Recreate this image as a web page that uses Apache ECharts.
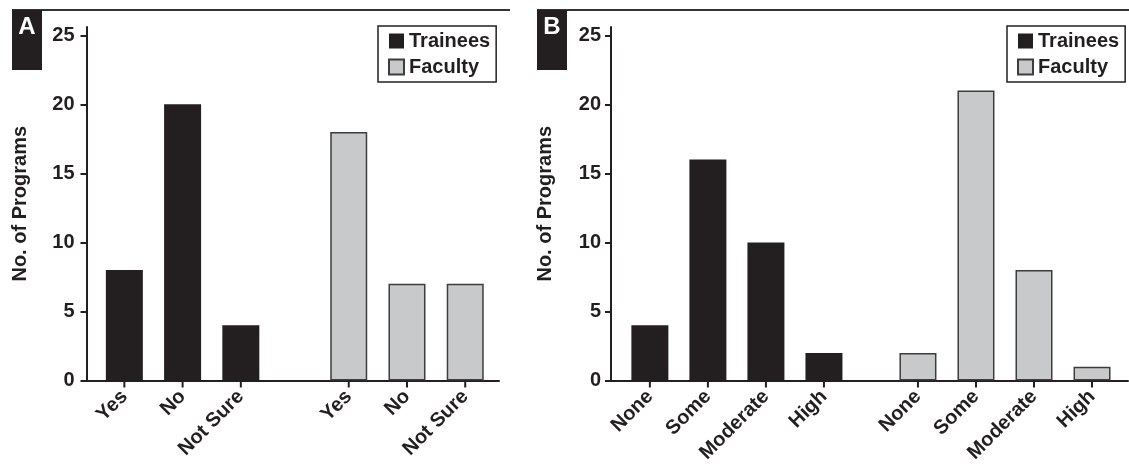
<!DOCTYPE html>
<html>
<head>
<meta charset="utf-8">
<script src="https://cdn.jsdelivr.net/npm/echarts@6/dist/echarts.min.js"></script>
<style>
  html, body { margin: 0; padding: 0; background: #fff; }
  #chart { width: 1129px; height: 470px; }
</style>
</head>
<body>
<div id="chart"></div>
<script>
// Panel A: does the program offer training? (trainees vs faculty)
const categoriesA = ['Yes', 'No', 'Not Sure'];
const traineesA = [8, 20, 4];
const facultyA = [18, 7, 7];

// Panel B: level of training (trainees vs faculty)
const categoriesB = ['None', 'Some', 'Moderate', 'High'];
const traineesB = [4, 16, 10, 2];
const facultyB = [2, 21, 8, 1];

const yTicks = [0, 5, 10, 15, 20, 25];
const seriesNames = ['Trainees', 'Faculty'];

const INK = '#231f20';
const GREY = '#c8c9cb';
const FONT = 'Liberation Sans, Arial, Helvetica, sans-serif';

// Two groups of bars share one value axis; the second group starts after a wider gap.
function groupLayout(cats, groupGap) {
  const n = cats.length;
  const tPos = cats.map((_, i) => i);
  const fPos = cats.map((_, i) => n - 1 + groupGap + i);
  const labels = {};
  tPos.forEach((p, i) => { labels[p.toFixed(3)] = cats[i]; });
  fPos.forEach((p, i) => { labels[p.toFixed(3)] = cats[i]; });
  return { tPos, fPos, ticks: tPos.concat(fPos), labels };
}

const layA = groupLayout(categoriesA, 1.853);
const layB = groupLayout(categoriesB, 1.62);

function xAxisFor(gridIndex, lay, padL, padR) {
  return {
    type: 'value',
    gridIndex,
    min: lay.tPos[0] - padL,
    max: lay.fPos[lay.fPos.length - 1] + padR,
    splitLine: { show: false },
    axisLine: { show: true, onZero: false, lineStyle: { color: INK, width: 2 } },
    axisTick: { show: false },
    axisLabel: {
      customValues: lay.ticks,
      rotate: 45,
      margin: 13,
      color: INK,
      fontFamily: FONT,
      fontWeight: 'bold',
      fontSize: 20,
      formatter: v => lay.labels[Number(v).toFixed(3)] || ''
    }
  };
}

function yAxisFor(gridIndex, labelMargin) {
  return {
    type: 'value',
    gridIndex,
    min: 0,
    max: 25.6,
    name: 'No. of Programs',
    nameLocation: 'middle',
    nameGap: 56,
    nameTextStyle: { color: INK, fontFamily: FONT, fontWeight: 'bold', fontSize: 20 },
    splitLine: { show: false },
    axisLine: { show: true, onZero: false, lineStyle: { color: INK, width: 2 } },
    axisTick: { show: true, length: 6, lineStyle: { color: INK, width: 2 }, customValues: yTicks },
    axisLabel: {
      customValues: yTicks,
      margin: labelMargin,
      color: INK,
      fontFamily: FONT,
      fontWeight: 'bold',
      fontSize: 20
    }
  };
}

const traineeStyle = { color: INK };
const facultyStyle = { color: GREY, borderColor: '#3d3d3d', borderWidth: 1.5 };

function barSeries(name, axisIndex, positions, values, style) {
  return {
    name,
    type: 'bar',
    xAxisIndex: axisIndex,
    yAxisIndex: axisIndex,
    barWidth: 37,
    barGap: '-100%',
    itemStyle: style,
    data: values.map((v, i) => [positions[i], v])
  };
}

// Category tick marks hanging below the x axis, placed through the axis scale.
function tickSeries(axisIndex, lay) {
  return {
    type: 'custom',
    xAxisIndex: axisIndex,
    yAxisIndex: axisIndex,
    silent: true,
    clip: false,
    z: 5,
    data: lay.ticks.map(t => [t, 0]),
    renderItem: (params, api) => {
      const p = api.coord([api.value(0), 0]);
      return {
        type: 'line',
        shape: { x1: p[0], y1: p[1], x2: p[0], y2: p[1] + 7 },
        style: { stroke: INK, lineWidth: 2 }
      };
    }
  };
}

function legendFor(left) {
  return {
    orient: 'vertical',
    left,
    top: 26,
    data: seriesNames,
    icon: 'rect',
    itemWidth: 15,
    itemHeight: 15,
    itemGap: 6,
    padding: [5, 6, 5, 10],
    borderColor: INK,
    borderWidth: 1.5,
    selectedMode: false,
    textStyle: { color: INK, fontFamily: FONT, fontWeight: 'bold', fontSize: 20 }
  };
}

function panelTag(x, letter, lineEnd) {
  return [
    { type: 'line', shape: { x1: x, y1: 10, x2: lineEnd, y2: 10 }, style: { stroke: '#333', lineWidth: 2 } },
    { type: 'rect', shape: { x, y: 10, width: 30, height: 60 }, style: { fill: INK } },
    { type: 'text', x: x + 15, y: 27, style: {
        text: letter, fill: '#fff', font: 'bold 24px ' + FONT, align: 'center', verticalAlign: 'middle' } }
  ];
}

const chart = echarts.init(document.getElementById('chart'), null, { renderer: 'canvas' });
chart.setOption({
  animation: false,
  backgroundColor: '#fff',
  grid: [
    { left: 86.5, width: 412.5, top: 27, height: 353.5 },
    { left: 611, width: 517, top: 27, height: 353.5 }
  ],
  xAxis: [
    xAxisFor(0, layA, 0.65, 0.58),
    xAxisFor(1, layB, 0.67, 0.62)
  ],
  yAxis: [
    yAxisFor(0, 12),
    yAxisFor(1, 10)
  ],
  legend: [legendFor(378), legendFor(1007)],
  series: [
    barSeries(seriesNames[0], 0, layA.tPos, traineesA, traineeStyle),
    barSeries(seriesNames[1], 0, layA.fPos, facultyA, facultyStyle),
    barSeries(seriesNames[0], 1, layB.tPos, traineesB, traineeStyle),
    barSeries(seriesNames[1], 1, layB.fPos, facultyB, facultyStyle),
    tickSeries(0, layA),
    tickSeries(1, layB)
  ],
  graphic: panelTag(12, 'A', 510).concat(panelTag(537, 'B', 1129))
});
</script>
</body>
</html>
